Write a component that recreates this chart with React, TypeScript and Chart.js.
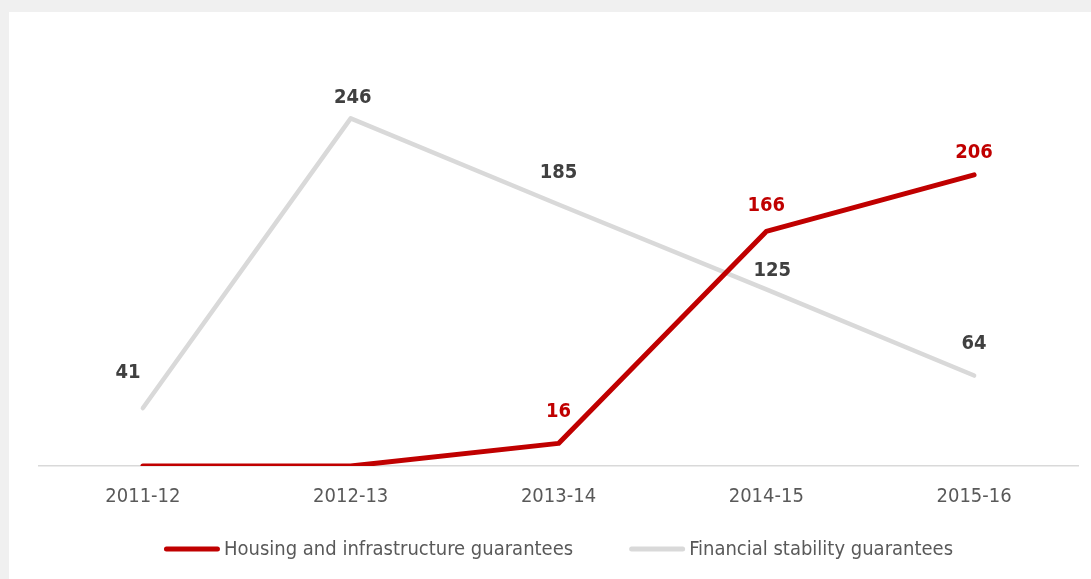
import React, { useEffect, useRef } from "react";
import { Chart, registerables } from "chart.js";

Chart.register(...registerables);

const categories = ["2011-12", "2012-13", "2013-14", "2014-15", "2015-16"];
const housingValues = [0, 0, 16, 166, 206];
const financialValues = [41, 246, 185, 125, 64];
const housingLabel = "Housing and infrastructure guarantees";
const financialLabel = "Financial stability guarantees";
// which points carry a value label
const housingShowLabel = [false, false, true, true, true];
const financialShowLabel = [true, true, true, true, true];
// label offsets relative to the point (pixels)
const housingLabelOffsets = [[0, -32], [0, -32], [0, -32], [0, -26], [0, -22]];
const financialLabelOffsets = [[-15, -35], [2, -21], [0, -32], [6, -19], [0, -32]];

const RED = "#c00000";
const GRAY = "#d9d9d9";
const FONT = "'Liberation Sans Narrow', 'DejaVu Sans Condensed', 'Roboto Condensed', sans-serif";

const valueLabelPlugin = {
  id: "valueLabels",
  afterDatasetsDraw(chart: any) {
    const ctx = chart.ctx;
    ctx.save();
    ctx.font = `bold 20px ${FONT}`;
    ctx.textAlign = "center";
    ctx.textBaseline = "middle";
    chart.data.datasets.forEach((ds: any, di: number) => {
      const meta = chart.getDatasetMeta(di);
      meta.data.forEach((pt: any, i: number) => {
        if (!ds.showLabel[i]) return;
        const [dx, dy] = ds.labelOffsets[i];
        ctx.fillStyle = ds.labelColor;
        ctx.fillText(String(ds.data[i]), pt.x + dx, pt.y + dy);
      });
    });
    ctx.restore();
  },
};

const legendPlugin = {
  id: "lineLegend",
  afterDraw(chart: any) {
    const ctx = chart.ctx;
    const area = chart.chartArea;
    const sample = 56;
    const textGap = 4;
    const itemGap = 56;
    const cy = 537;
    ctx.save();
    ctx.font = `20px ${FONT}`;
    ctx.textBaseline = "middle";
    ctx.textAlign = "left";
    const items = chart.data.datasets.map((ds: any) => ({
      text: ds.label,
      color: ds.borderColor,
      w: sample + textGap + ctx.measureText(ds.label).width,
    }));
    const total = items.reduce((s: number, it: any) => s + it.w, 0) + itemGap * (items.length - 1);
    let x = (area.left + area.right) / 2 - total / 2;
    items.forEach((it: any) => {
      ctx.strokeStyle = it.color;
      ctx.lineWidth = 5;
      ctx.lineCap = "round";
      ctx.beginPath();
      ctx.moveTo(x + 2.5, cy);
      ctx.lineTo(x + sample - 2.5, cy);
      ctx.stroke();
      ctx.fillStyle = "#595959";
      ctx.fillText(it.text, x + sample + textGap, cy + 1);
      x += it.w + itemGap;
    });
    ctx.restore();
  },
};

export default function App() {
  const ref = useRef<HTMLCanvasElement | null>(null);

  useEffect(() => {
    document.body.style.margin = "0";
    document.body.style.background = "#f0f0f0";
    const canvas = ref.current;
    if (!canvas) return;
    const chart = new Chart(canvas, {
      type: "line",
      data: {
        labels: categories,
        datasets: [
          {
            label: housingLabel,
            data: housingValues,
            borderColor: RED,
            backgroundColor: RED,
            borderWidth: 5,
            borderCapStyle: "round",
            borderJoinStyle: "round",
            pointRadius: 0,
            tension: 0,
            labelColor: RED,
            labelOffsets: housingLabelOffsets,
            showLabel: housingShowLabel,
          } as any,
          {
            label: financialLabel,
            data: financialValues,
            borderColor: GRAY,
            backgroundColor: GRAY,
            borderWidth: 4.5,
            borderCapStyle: "round",
            borderJoinStyle: "round",
            pointRadius: 0,
            tension: 0,
            labelColor: "#404040",
            labelOffsets: financialLabelOffsets,
            showLabel: financialShowLabel,
          } as any,
        ],
      },
      options: {
        animation: false,
        responsive: false,
        maintainAspectRatio: false,
        layout: { padding: { top: 30, left: 30, right: 13, bottom: 0 } },
        plugins: {
          legend: { display: false },
          tooltip: { enabled: false },
        },
        scales: {
          x: {
            offset: true,
            grid: { display: false, drawTicks: false },
            border: { display: true, color: GRAY, width: 1.5 },
            ticks: {
              padding: 19,
              color: "#595959",
              font: { family: FONT, size: 20 },
              maxRotation: 0,
            },
            afterFit: (scale: any) => {
              scale.height = 113;
            },
          },
          y: {
            display: false,
            min: 0,
            max: 300,
          },
        },
      },
      plugins: [valueLabelPlugin, legendPlugin],
    });
    return () => chart.destroy();
  }, []);

  return (
    <div style={{ paddingTop: 12, paddingLeft: 9, background: "#f0f0f0" }}>
      <div style={{ width: 1082, height: 567, background: "#ffffff" }}>
        <canvas ref={ref} width={1082} height={567} style={{ display: "block" }} />
      </div>
    </div>
  );
}
